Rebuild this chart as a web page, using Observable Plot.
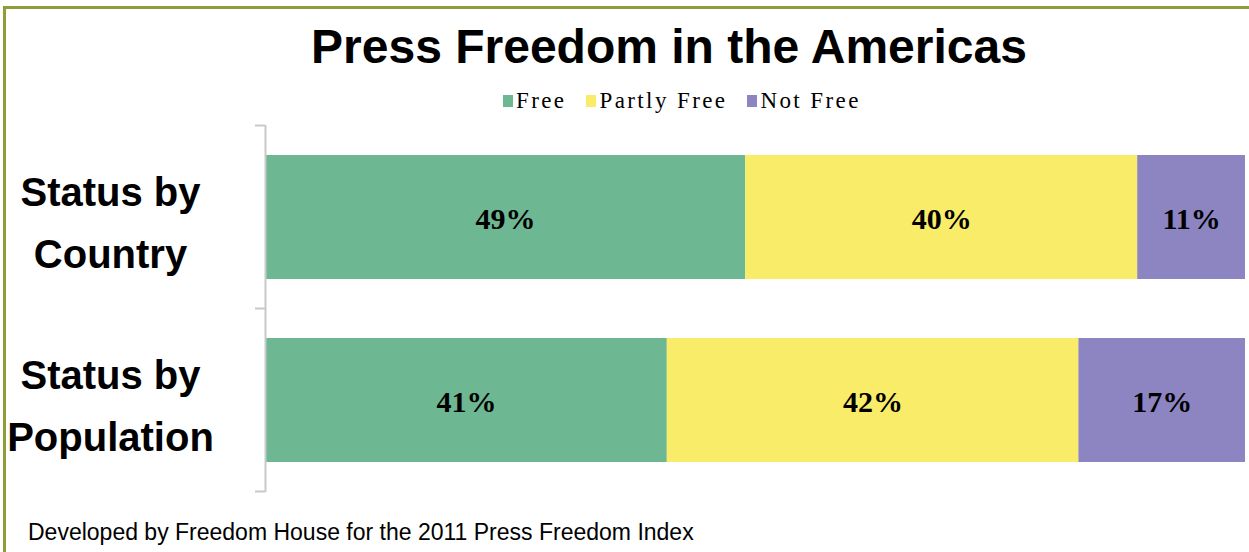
<!DOCTYPE html>
<html>
<head>
<meta charset="utf-8">
<script src="https://cdn.jsdelivr.net/npm/d3@7"></script>
<script src="https://cdn.jsdelivr.net/npm/@observablehq/plot@0.6"></script>
<style>
  html, body { margin: 0; padding: 0; background: #fff; }
  #wrap { position: relative; width: 1249px; height: 552px; overflow: hidden; background: #fff; }
  .bt { position: absolute; left: 3px; top: 6px; width: 1246px; height: 2.5px; background: #8e9c3a; }
  .bl { position: absolute; left: 3px; top: 6px; width: 2.5px; height: 546px; background: #8e9c3a; }
  #title { position: absolute; left: 269px; width: 800px; top: 23px; text-align: center;
           font-family: "Liberation Sans", Arial, sans-serif; font-weight: bold; font-size: 48px; line-height: 48px; color: #000; }
  #legend { position: absolute; left: 503px; top: 89px; height: 24px; display: flex; align-items: center;
            font-family: "Liberation Serif", "Times New Roman", serif; font-size: 23px; letter-spacing: 2.4px; color: #000; white-space: nowrap; }
  #legend .item { display: flex; align-items: center; margin-right: 20px; }
  #legend .sw { width: 10px; height: 12px; margin-right: 3px; }
  #chart { position: absolute; left: 0; top: 110px; }
  #caption { position: absolute; left: 28px; top: 518px; font-family: "Liberation Sans", Arial, sans-serif;
             font-size: 23px; line-height: 28px; color: #000; white-space: nowrap; }
</style>
</head>
<body>
<div id="wrap">
  <div class="bt"></div>
  <div class="bl"></div>
  <div id="title"></div>
  <div id="legend"></div>
  <div id="chart"></div>
  <div id="caption"></div>
</div>
<script>
// ---- data ----
const titleText = "Press Freedom in the Americas";
const captionText = "Developed by Freedom House for the 2011 Press Freedom Index";
const groups = ["Status by Country", "Status by Population"];
const groupLabels = ["Status by\nCountry", "Status by\nPopulation"];
const statuses = ["Free", "Partly Free", "Not Free"];
const colors = ["#6db793", "#f8ec69", "#8d84c2"];
const countryValues = [49, 40, 11];
const populationValues = [41, 42, 17];

// ---- build table ----
const seriesByGroup = [countryValues, populationValues];
const data = [];
groups.forEach((g, gi) => {
  statuses.forEach((s, si) => {
    data.push({group: g, status: s, value: seriesByGroup[gi][si]});
  });
});
const labelOf = new Map(groups.map((g, i) => [g, groupLabels[i]]));

// ---- title / legend / caption ----
document.getElementById("title").textContent = titleText;
document.getElementById("caption").textContent = captionText;
const legend = document.getElementById("legend");
statuses.forEach((s, i) => {
  const item = document.createElement("div");
  item.className = "item";
  const sw = document.createElement("div");
  sw.className = "sw";
  sw.style.background = colors[i];
  const t = document.createElement("span");
  t.textContent = s;
  item.appendChild(sw);
  item.appendChild(t);
  legend.appendChild(item);
});

// ---- plot ----
const plot = Plot.plot({
  width: 1249,
  height: 400,
  marginLeft: 265,
  marginRight: 4,
  marginTop: 15,
  marginBottom: 18,
  style: {fontFamily: "'Liberation Sans', Arial, sans-serif", background: "transparent", color: "#000"},
  x: {domain: [0, 100], axis: null},
  y: {domain: groups, paddingInner: 0.324, paddingOuter: 0.162, axis: null, label: null},
  color: {domain: statuses, range: colors},
  marks: [
    Plot.barX(data, Plot.stackX({x: "value", y: "group", fill: "status"})),
    Plot.text(data, Plot.stackX({
      x: "value", y: "group", z: "status",
      text: d => d.value + "%",
      fill: "#000",
      fontSize: 30,
      fontWeight: "bold",
      fontFamily: "'Liberation Serif', 'Times New Roman', serif",
      dy: 2
    })),
    Plot.axisY({
      tickSize: 0,
      tickPadding: 155,
      textAnchor: "middle",
      fontSize: 40,
      fontWeight: "bold",
      lineHeight: 1.55,
      fill: "#000",
      tickFormat: d => labelOf.get(d),
      label: null
    }),
    Plot.ruleX([0], {stroke: "#c9c9c9", strokeWidth: 2})
  ]
});
document.getElementById("chart").appendChild(plot);

// category boundary ticks on the y axis, from the plot's own y scale
const ys = plot.scale("y");
const half = (ys.step - ys.bandwidth) / 2;
const bounds = ys.domain.map(d => ys.apply(d) - half);
bounds.push(ys.apply(ys.domain[ys.domain.length - 1]) + ys.bandwidth + half);
const x0 = plot.scale("x").apply(0);
d3.select(plot).append("g")
  .attr("stroke", "#c9c9c9")
  .attr("stroke-width", 2)
  .selectAll("line")
  .data(bounds)
  .join("line")
  .attr("x1", x0 - 10)
  .attr("x2", x0)
  .attr("y1", d => d)
  .attr("y2", d => d);
</script>
</body>
</html>
